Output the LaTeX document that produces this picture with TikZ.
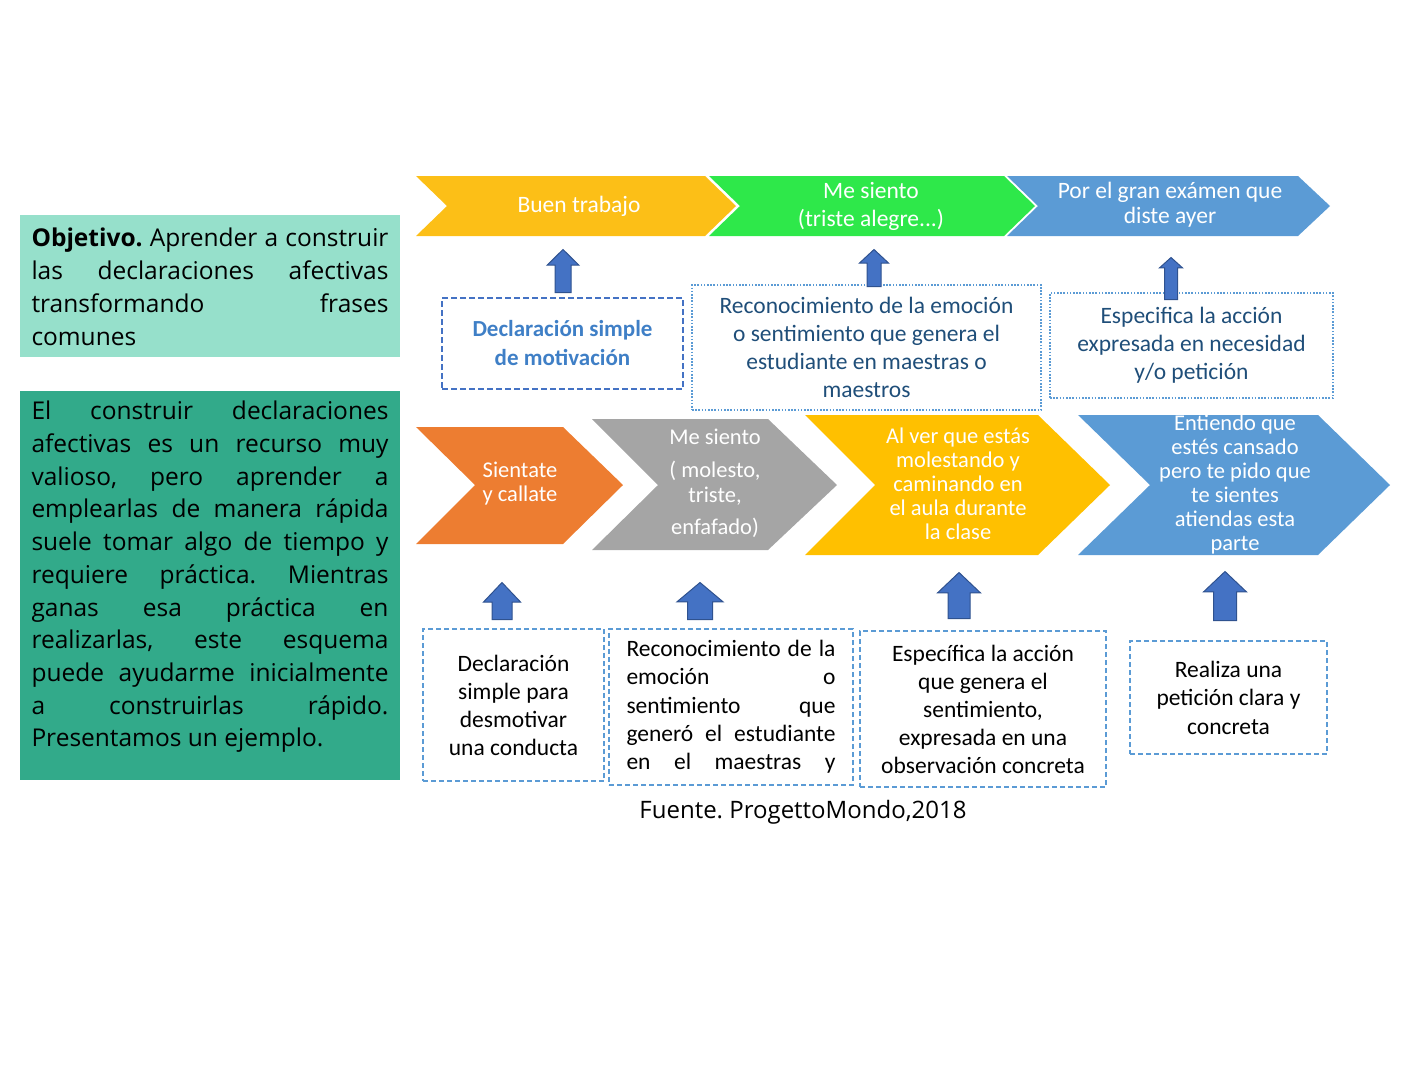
\documentclass[tikz,border=0pt]{standalone}
\usepackage{fontspec}
\setmainfont{Carlito}
\newfontfamily\opensans{Open Sans}
\usetikzlibrary{shapes.arrows}
\definecolor{yellowtop}{HTML}{FCBF17}
\definecolor{yellowmid}{HTML}{FFC000}
\definecolor{greenchev}{HTML}{2EE84A}
\definecolor{bluechev}{HTML}{5B9BD5}
\definecolor{orangechev}{HTML}{ED7D31}
\definecolor{graychev}{HTML}{A5A5A5}
\definecolor{tealpale}{HTML}{96E0CB}
\definecolor{tealdark}{HTML}{32AA8A}
\definecolor{arrowfill}{HTML}{4472C4}
\definecolor{arrowline}{HTML}{2F528F}
\definecolor{boxdark}{HTML}{4472C4}
\definecolor{boxlight}{HTML}{5B9BD5}
\definecolor{decltext}{HTML}{3F7FC6}
\definecolor{navytext}{HTML}{1F4E79}
\tikzstyle{dashbox} = [draw=boxlight, line width=1.5pt, dash pattern=on 5pt off 3pt, inner sep=0pt, align=center]
\tikzstyle{dotbox}  = [draw=boxlight, line width=1.6pt, dash pattern=on 1.6pt off 1.6pt, inner sep=0pt, align=center, text=navytext]
\newcommand{\jline}[2]{\hbox to #1{\spaceskip=0.25em plus 1fil\relax #2}}
\frenchspacing
\begin{document}
\begin{tikzpicture}[x=1pt,y=-1pt,
			chevtext/.style={text=white, align=center, font=\fontsize{23.5}{25}\selectfont},
			midtext/.style={text=white, align=center, font=\fontsize{22.5}{24}\selectfont},
			boxtext/.style={font=\fontsize{23.5}{28}\selectfont},
			blockup/.style n args={5}{single arrow, rotate=90, anchor=tail, draw=arrowline, fill=arrowfill, line width=1pt,
					inner xsep=0pt, inner ysep=#2, minimum width=#1, single arrow head extend=#3, minimum height=#4, single arrow tip angle=#5},
		]
		\useasboundingbox (0,0) rectangle (1410,1080);

		% left boxes
		\node[fill=tealpale, minimum width=380, minimum height=142, inner sep=0pt] (objbox) at (210,286) {};
		\node[inner sep=0pt] (objtext) at (210,286.5) {\opensans\fontsize{24.5}{33}\selectfont\vbox{
				\jline{357pt}{\textbf{Objetivo.} Aprender a construir}
				\jline{357pt}{las declaraciones afectivas}
				\jline{357pt}{transformando frases}
				\hbox{comunes}}};
		\node[fill=tealdark, minimum width=380, minimum height=389, inner sep=0pt] (introbox) at (210,585.5) {};
		\node[inner sep=0pt] (introtext) at (210,577) {\opensans\fontsize{24.5}{32.7}\selectfont\vbox{
				\jline{357pt}{El construir declaraciones}
				\jline{357pt}{afectivas es un recurso muy}
				\jline{357pt}{valioso, pero aprender a}
				\jline{357pt}{emplearlas de manera rápida}
				\jline{357pt}{suele tomar algo de tiempo y}
				\jline{357pt}{requiere práctica. Mientras}
				\jline{357pt}{ganas esa práctica en}
				\jline{357pt}{realizarlas, este esquema}
				\jline{357pt}{puede ayudarme inicialmente}
				\jline{357pt}{a construirlas rápido.}
				\hbox{Presentamos un ejemplo.}}};

		% top row
		\fill[yellowtop] (416,176) -- (705,176) -- (736,206) -- (705,236) -- (416,236) -- (447,206) -- cycle;
		\fill[greenchev] (709,176) -- (1004,176) -- (1035,206) -- (1004,236) -- (709,236) -- (740,206) -- cycle;
		\fill[bluechev] (1007,176) -- (1298,176) -- (1330,206) -- (1298,236) -- (1007,236) -- (1038,206) -- cycle;
		\node[chevtext] (buen) at (579,206) {Buen trabajo};
		\node[chevtext, font=\fontsize{23.5}{28}\selectfont] (siento) at (871,206) {Me siento\\(triste alegre...)};
		\node[chevtext] (examen) at (1170,205) {Por el gran exámen que\\diste ayer};

		\node[dashbox, draw=boxdark, dash pattern=on 6pt off 3pt, minimum width=241, minimum height=91, text=decltext,
			font=\fontsize{23}{29}\selectfont\bfseries] (declmot) at (562.5,343.5) {Declaración simple\\de motivación};
		\node[dotbox, minimum width=349, minimum height=125, boxtext] (recemo) at (866.5,347.5)
		{Reconocimiento de la emoción\\o sentimiento que genera el\\estudiante en maestras o\\maestros};
		\node[dotbox, minimum width=283, minimum height=105, boxtext] (espnec) at (1191.5,345.5)
		{Especifica la acción\\expresada en necesidad\\y/o petición};

		\node[blockup={31}{7.5}{8}{43}{91}] (upA) at (563,293) {};
		\node[blockup={28}{6.5}{7.5}{37}{94}] (upB) at (874,287) {};
		\node[blockup={22}{6}{5}{42}{96}] (upC) at (1171,300) {};

		% middle row
		\fill[orangechev] (416,427) -- (563,427) -- (623,485) -- (563,544) -- (416,544) -- (475,485) -- cycle;
		\fill[graychev] (592,419) -- (768,419) -- (837,485) -- (768,550) -- (592,550) -- (658,485) -- cycle;
		\fill[yellowmid] (805,415) -- (1038,415) -- (1110,485) -- (1038,555) -- (805,555) -- (875,485) -- cycle;
		\fill[bluechev] (1078,415) -- (1318,415) -- (1390,485) -- (1318,555) -- (1078,555) -- (1150,485) -- cycle;
		\node[midtext] (sientate) at (520,484) {Sientate\\y callate};
		\node[midtext, font=\fontsize{22.5}{25}\selectfont] (molesto) at (715,483) {Me siento\\[8pt]( molesto,\\triste,\\[7pt]enfafado)};
		\node[midtext] (alver) at (958,484) {Al ver que estás\\molestando y\\caminando en\\el aula durante\\la clase};
		\node[midtext] (entiendo) at (1235,484) {Entiendo que\\estés cansado\\pero te pido que\\te sientes\\atiendas esta\\parte};

		% bottom row
		\node[blockup={36}{9.5}{8.5}{37}{87}] (up1) at (502,620) {};
		\node[blockup={45}{12}{10.5}{37}{100}] (up2) at (700,620) {};
		\node[blockup={42}{10.5}{10.5}{46}{93}] (up3) at (959,619) {};
		\node[blockup={42}{11}{10}{49}{93}] (up4) at (1225,621) {};

		\node[dashbox, minimum width=181, minimum height=152, boxtext] (desmot) at (513.5,705)
		{Declaración\\simple para\\desmotivar\\una conducta};
		\node[dashbox, minimum width=244, minimum height=156] (genero) at (731,707) {\fontsize{23.5}{28.3}\selectfont\vbox{
				\jline{209pt}{Reconocimiento de la}
				\jline{209pt}{emoción o}
				\jline{209pt}{sentimiento que}
				\jline{209pt}{generó el estudiante}
				\jline{209pt}{en el maestras y}}};
		\node[dashbox, minimum width=246, minimum height=156, boxtext] (espobs) at (983,709)
		{Específica la acción\\que genera el\\sentimiento,\\expresada en una\\observación concreta};
		\node[dashbox, minimum width=197, minimum height=113, font=\fontsize{23.5}{28.5}\selectfont] (peticion) at (1228.5,697.5)
		{Realiza una\\petición clara y\\concreta};

		\node[font=\opensans\fontsize{24}{28}\selectfont] (fuente) at (803,812) {Fuente. ProgettoMondo,2018};
	\end{tikzpicture}
\end{document}
